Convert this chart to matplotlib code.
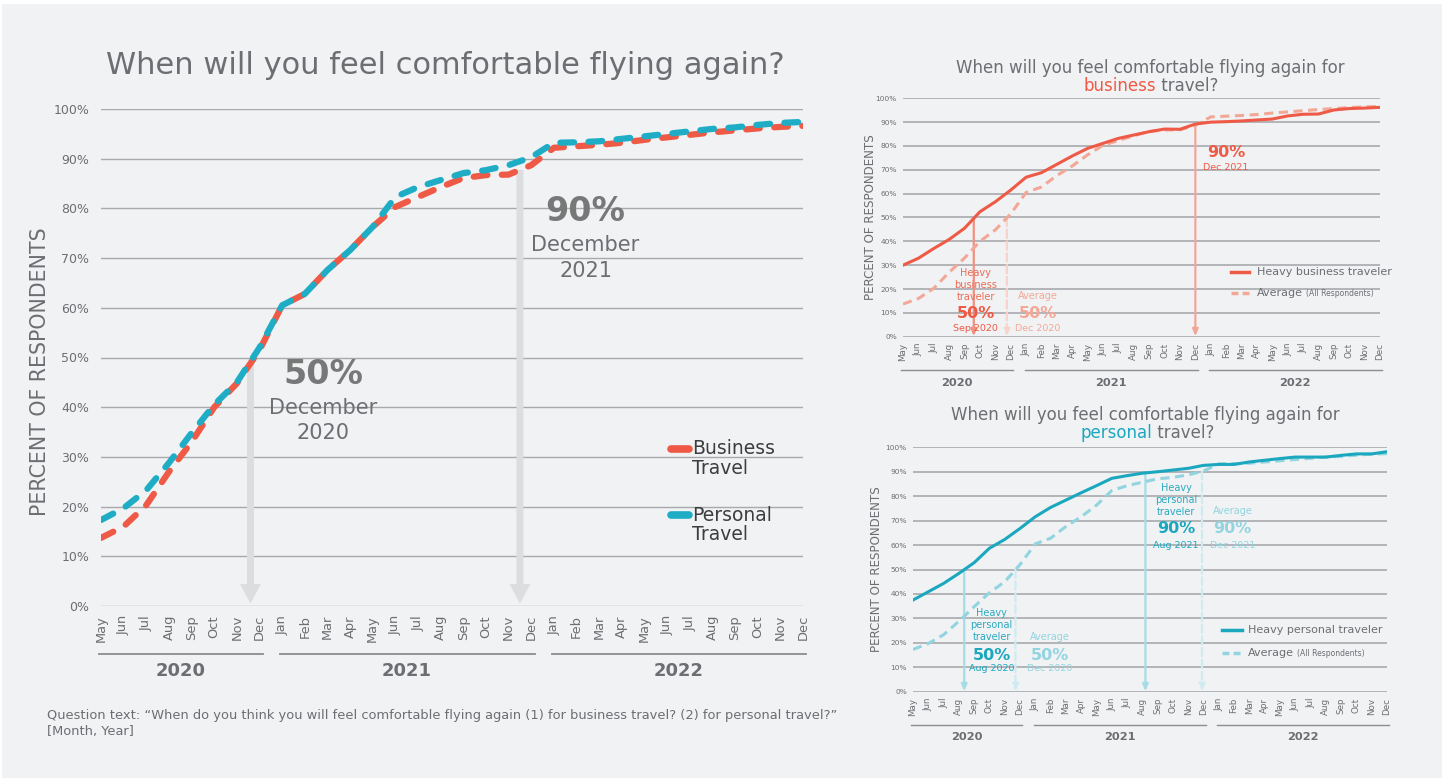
# Comfort flying again - survey charts

import matplotlib.pyplot as plt
import numpy as np
from matplotlib.patches import Rectangle

months = ['May', 'Jun', 'Jul', 'Aug', 'Sep', 'Oct', 'Nov', 'Dec',
          'Jan', 'Feb', 'Mar', 'Apr', 'May', 'Jun', 'Jul', 'Aug', 'Sep', 'Oct', 'Nov', 'Dec',
          'Jan', 'Feb', 'Mar', 'Apr', 'May', 'Jun', 'Jul', 'Aug', 'Sep', 'Oct', 'Nov', 'Dec']
years = ['2020', '2021', '2022']
year_start = [0, 8, 20]
year_end = [7, 19, 31]

# average of all respondents (main chart + dashed lines on the right)
business_avg = [13.7, 16.0, 20.3, 27.0, 33.0, 40.0, 44.8, 51.5,
                60.5, 62.8, 67.6, 71.6, 76.3, 80.3, 82.3, 84.3, 86.1, 86.7, 86.8, 88.7,
                92.2, 92.5, 92.8, 93.2, 93.8, 94.3, 94.8, 95.3, 95.7, 96.1, 96.4, 96.6]
personal_avg = [17.3, 19.7, 23.3, 28.8, 34.8, 40.5, 45.0, 52.0,
                60.5, 62.8, 67.6, 71.6, 76.3, 82.3, 84.3, 85.7, 87.1, 87.7, 88.7, 90.3,
                93.2, 93.3, 93.5, 94.0, 94.5, 95.0, 95.5, 96.0, 96.3, 96.8, 97.2, 97.4]
heavy_business = [30.0, 32.9, 37.0, 40.8, 45.5, 52.4, 56.6, 61.5,
                  66.9, 68.8, 72.3, 75.8, 79.0, 81.1, 83.2, 84.6, 86.0, 87.1, 87.0, 89.2,
                  90.0, 90.2, 90.5, 90.9, 91.3, 92.6, 93.3, 93.4, 95.1, 95.7, 95.9, 96.2]
heavy_personal = [37.5, 40.9, 44.3, 48.4, 52.8, 58.7, 62.3, 66.8,
                  71.6, 75.4, 78.4, 81.4, 84.3, 87.3, 88.4, 89.4, 90.0, 90.7, 91.4, 92.6,
                  93.0, 93.0, 94.0, 94.7, 95.4, 96.0, 96.0, 96.0, 96.7, 97.3, 97.3, 98.2]

x = np.arange(len(months))

W, H = 1447, 781
BG = '#f1f2f4'
GRAY = '#6d6e71'
GRID = '#a7a9ac'
RED = '#ee5a45'
RED_LIGHT = '#f3a897'
BLUE = '#1fadc6'
TEAL = '#1ba8bf'
TEAL_LIGHT = '#92d4df'

plt.rcParams['font.family'] = ['DejaVu Sans']

fig = plt.figure(figsize=(W / 100, H / 100), dpi=100, facecolor='white')
fig.patches.append(Rectangle((2 / W, 3 / H), 1440 / W, 774 / H, transform=fig.transFigure,
                             facecolor=BG, edgecolor='none', zorder=-5))


def add_ax(x0, y0, x1, y1):
    ax = fig.add_axes([x0 / W, 1 - y1 / H, (x1 - x0) / W, (y1 - y0) / H])
    ax.set_facecolor('none')
    ax.set_xlim(0, 31)
    ax.set_ylim(0, 100)
    for s in ax.spines.values():
        s.set_visible(False)
    ax.set_axisbelow(True)
    return ax


def style(ax, ytick_fs, xtick_fs, ypad, xpad, grid_lw):
    ax.set_yticks(range(0, 101, 10))
    ax.set_yticklabels([f'{v}%' for v in range(0, 101, 10)])
    ax.set_xticks(x)
    ax.set_xticklabels(months, rotation=90)
    ax.tick_params(axis='y', length=0, labelsize=ytick_fs, labelcolor=GRAY, pad=ypad)
    ax.tick_params(axis='x', length=0, labelsize=xtick_fs, labelcolor=GRAY, pad=xpad)
    ax.grid(axis='y', color=GRID, lw=grid_lw)


def year_bands(ax, line_y, label_y, fs, lw):
    tr = ax.get_xaxis_transform()
    for yr, s, e in zip(years, year_start, year_end):
        ax.plot([s - 0.1, e + 0.15], [line_y, line_y], transform=tr, clip_on=False,
                color='#8a8c8f', lw=lw)
        ax.text((s + e) / 2, label_y, yr, transform=tr, ha='center', va='center',
                fontsize=fs, fontweight='bold', color=GRAY)


def drop_arrow(ax, xpos, series, color, lw=1.6, ls='-'):
    top = np.interp(xpos, x, series)
    ax.annotate('', xy=(xpos, 0.2), xytext=(xpos, top), zorder=2,
                arrowprops=dict(arrowstyle='-|>,head_length=0.4,head_width=0.17',
                                mutation_scale=10, color=color, lw=lw, ls=ls,
                                shrinkA=0, shrinkB=0))


# ---------------- main chart ----------------
ax = add_ax(101, 109, 803, 606)
style(ax, 9, 9.4, 8.5, 6.5, 1.0)
ax.plot(x, business_avg, color=RED, lw=4.5, dashes=(2.2, 2.3), dash_capstyle='round', zorder=3)
ax.plot(x, personal_avg, color=BLUE, lw=4.5, dashes=(2.2, 2.3), dash_capstyle='round', zorder=4)
year_bands(ax, -0.097, -0.131, 13, 1.3)

for xpos in [6.6, 18.5]:
    top = np.interp(xpos, x, business_avg)
    ax.annotate('', xy=(xpos, 0.5), xytext=(xpos, top), zorder=2,
                arrowprops=dict(arrowstyle='simple,head_length=0.7,head_width=0.75,tail_width=0.25',
                                mutation_scale=20, color='#dcdddf', lw=0, shrinkA=0, shrinkB=0))

ax.text(9.8, 46.5, '50%', ha='center', va='center', fontsize=24, fontweight='bold', color='#777878')
ax.text(9.8, 39.8, 'December', ha='center', va='center', fontsize=15, color=GRAY)
ax.text(9.8, 34.8, '2020', ha='center', va='center', fontsize=15, color=GRAY)
ax.text(21.4, 79.3, '90%', ha='center', va='center', fontsize=24, fontweight='bold', color='#777878')
ax.text(21.4, 72.6, 'December', ha='center', va='center', fontsize=15, color=GRAY)
ax.text(21.4, 67.4, '2021', ha='center', va='center', fontsize=15, color=GRAY)

# legend
for yy, col, lab in [(31.6, RED, 'Business'), (18.3, BLUE, 'Personal')]:
    ax.plot([25.15, 25.95], [yy, yy], color=col, lw=5.5, solid_capstyle='round', zorder=5)
    ax.text(26.1, yy, lab, ha='left', va='center', fontsize=13.5, color='#3c3d3f')
    ax.text(26.1, yy - 4.0, 'Travel', ha='left', va='center', fontsize=13.5, color='#3c3d3f')

fig.text(445 / W, 1 - 66 / H, 'When will you feel comfortable flying again?', ha='center',
         va='center', fontsize=22, color=GRAY)
fig.text(40 / W, 1 - 372 / H, 'PERCENT OF RESPONDENTS', rotation=90, ha='center', va='center',
         fontsize=14.8, color=GRAY)
fig.text(47 / W, 1 - 715 / H,
         'Question text: \u201cWhen do you think you will feel comfortable flying again (1) for business travel? (2) for personal travel?\u201d',
         ha='left', va='center', fontsize=9.4, color=GRAY)
fig.text(47 / W, 1 - 732 / H, '[Month, Year]', ha='left', va='center', fontsize=9.4, color=GRAY)

# ---------------- business travel (top right) ----------------
ax1 = add_ax(903, 98.3, 1380, 336.7)
style(ax1, 5.3, 6.3, 4.5, 4.5, 1.2)
ax1.plot(x, business_avg, color=RED_LIGHT, lw=2.2, dashes=(3, 1.8), zorder=3)
ax1.plot(x, heavy_business, color=RED, lw=2.2, zorder=4)
year_bands(ax1, -0.14, -0.195, 8.2, 1.0)

drop_arrow(ax1, 4.6, heavy_business, '#f0917f')
drop_arrow(ax1, 6.75, business_avg, '#f7d3cb', ls='--')
drop_arrow(ax1, 19.0, heavy_business, '#f2a696')

ax1.text(4.72, 21.7, 'Heavy\nbusiness\ntraveler', ha='center', va='center', fontsize=7,
         color='#ec6c56', linespacing=1.2)
ax1.text(4.72, 9.9, '50%', ha='center', va='center', fontsize=11.5, fontweight='bold', color=RED)
ax1.text(4.72, 3.6, 'Sep 2020', ha='center', va='center', fontsize=6.8, color=RED)
ax1.text(8.77, 17.1, 'Average', ha='center', va='center', fontsize=7, color=RED_LIGHT)
ax1.text(8.77, 9.9, '50%', ha='center', va='center', fontsize=11.5, fontweight='bold', color=RED_LIGHT)
ax1.text(8.77, 3.6, 'Dec 2020', ha='center', va='center', fontsize=6.8, color=RED_LIGHT)
ax1.text(21.0, 77.1, '90%', ha='center', va='center', fontsize=11.5, fontweight='bold', color=RED)
ax1.text(21.0, 70.8, 'Dec 2021', ha='center', va='center', fontsize=6.8, color=RED)

ax1.plot([21.3, 22.5], [27.1, 27.1], color=RED, lw=2.5, zorder=5)
ax1.plot([21.3, 22.5], [18.3, 18.3], color=RED_LIGHT, lw=2.5, dashes=(2, 1.2), zorder=5)
ax1.text(23.0, 27.1, 'Heavy business traveler', ha='left', va='center', fontsize=8, color=GRAY)
t1 = ax1.text(23.0, 18.3, 'Average', ha='left', va='center', fontsize=8, color=GRAY)
ax1.annotate('(All Respondents)', xy=(1, 0.45), xycoords=t1, xytext=(2.5, 0), textcoords='offset points',
             ha='left', va='center', fontsize=5.5, color=GRAY)

fig.text(1150 / W, 1 - 68 / H, 'When will you feel comfortable flying again for', ha='center',
         va='center', fontsize=12, color=GRAY)
fig.text(1156 / W, 1 - 86 / H, 'business', ha='right', va='center', fontsize=12, color=RED)
fig.text(1156 / W, 1 - 86 / H, ' travel?', ha='left', va='center', fontsize=12, color=GRAY)
fig.text(871 / W, 1 - 217.5 / H, 'PERCENT OF RESPONDENTS', rotation=90, ha='center', va='center',
         fontsize=8.6, color=GRAY)

# ---------------- personal travel (bottom right) ----------------
ax2 = add_ax(913, 447.3, 1387, 691.7)
style(ax2, 5.3, 6.3, 4.5, 4.5, 1.2)
ax2.plot(x, personal_avg, color=TEAL_LIGHT, lw=2.2, dashes=(3, 1.8), zorder=3)
ax2.plot(x, heavy_personal, color=TEAL, lw=2.2, zorder=4)
year_bands(ax2, -0.136, -0.186, 8.2, 1.0)

drop_arrow(ax2, 3.35, heavy_personal, '#a6dce6')
drop_arrow(ax2, 6.7, personal_avg, '#cdebf1', ls='--')
drop_arrow(ax2, 15.2, heavy_personal, '#a6dce6')
drop_arrow(ax2, 18.9, personal_avg, '#cdebf1', ls='--')

ax2.text(5.14, 27.3, 'Heavy\npersonal\ntraveler', ha='center', va='center', fontsize=7,
         color='#2aa9c0', linespacing=1.2)
ax2.text(5.14, 15.0, '50%', ha='center', va='center', fontsize=11.5, fontweight='bold', color=TEAL)
ax2.text(5.14, 9.3, 'Aug 2020', ha='center', va='center', fontsize=6.8, color=TEAL)
ax2.text(8.94, 22.4, 'Average', ha='center', va='center', fontsize=7, color=TEAL_LIGHT)
ax2.text(8.94, 15.0, '50%', ha='center', va='center', fontsize=11.5, fontweight='bold', color=TEAL_LIGHT)
ax2.text(8.94, 9.3, 'Dec 2020', ha='center', va='center', fontsize=6.8, color=TEAL_LIGHT)
ax2.text(17.2, 78.4, 'Heavy\npersonal\ntraveler', ha='center', va='center', fontsize=7,
         color='#2aa9c0', linespacing=1.2)
ax2.text(17.2, 66.6, '90%', ha='center', va='center', fontsize=11.5, fontweight='bold', color=TEAL)
ax2.text(17.2, 60.0, 'Aug 2021', ha='center', va='center', fontsize=6.8, color=TEAL)
ax2.text(20.9, 73.9, 'Average', ha='center', va='center', fontsize=7, color=TEAL_LIGHT)
ax2.text(20.9, 66.6, '90%', ha='center', va='center', fontsize=11.5, fontweight='bold', color=TEAL_LIGHT)
ax2.text(20.9, 60.0, 'Dec 2021', ha='center', va='center', fontsize=6.8, color=TEAL_LIGHT)

ax2.plot([20.2, 21.5], [25.2, 25.2], color=TEAL, lw=2.5, zorder=5)
ax2.plot([20.2, 21.5], [15.8, 15.8], color=TEAL_LIGHT, lw=2.5, dashes=(2, 1.2), zorder=5)
ax2.text(21.9, 25.2, 'Heavy personal traveler', ha='left', va='center', fontsize=8, color=GRAY)
t2 = ax2.text(21.9, 15.8, 'Average', ha='left', va='center', fontsize=8, color=GRAY)
ax2.annotate('(All Respondents)', xy=(1, 0.45), xycoords=t2, xytext=(2.5, 0), textcoords='offset points',
             ha='left', va='center', fontsize=5.5, color=GRAY)

fig.text(1145 / W, 1 - 415 / H, 'When will you feel comfortable flying again for', ha='center',
         va='center', fontsize=12, color=GRAY)
fig.text(1152 / W, 1 - 433 / H, 'personal', ha='right', va='center', fontsize=12, color=TEAL)
fig.text(1152 / W, 1 - 433 / H, ' travel?', ha='left', va='center', fontsize=12, color=GRAY)
fig.text(876 / W, 1 - 569.5 / H, 'PERCENT OF RESPONDENTS', rotation=90, ha='center', va='center',
         fontsize=8.6, color=GRAY)

plt.savefig('out.png', dpi=100, facecolor=fig.get_facecolor())
